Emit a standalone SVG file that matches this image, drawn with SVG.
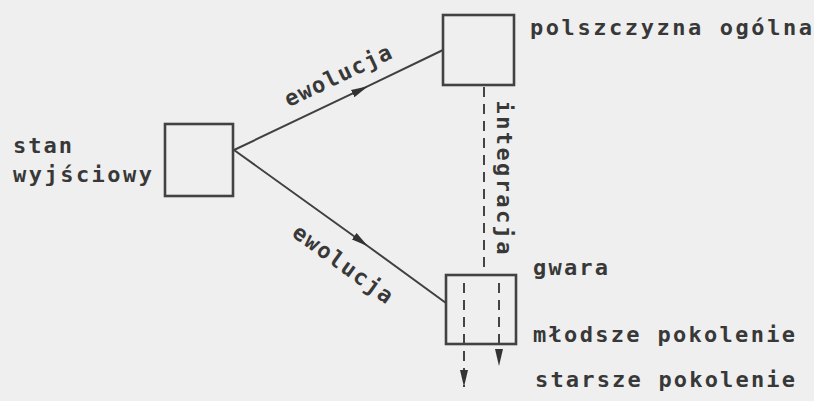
<svg xmlns="http://www.w3.org/2000/svg" width="814" height="401" viewBox="0 0 814 401">
  <defs>
    <marker id="head" markerUnits="userSpaceOnUse" markerWidth="20" markerHeight="10" refX="17" refY="0" viewBox="0 -5 20 10" orient="auto">
      <path d="M0,-4 L17,0 L0,4 z" fill="#333333"/>
    </marker>
    <style>
      .box { fill: none; stroke: #424242; stroke-width: 2.6; }
      .edge { fill: none; stroke: #404040; stroke-width: 2; }
      .dash { fill: none; stroke: #444444; stroke-width: 2; stroke-dasharray: 10 7; }
      .lbl { font-family: "DejaVu Sans Mono", "Liberation Mono", monospace; font-size: 22px; font-weight: bold; fill: #383838; }
    </style>
  </defs>

  <rect width="814" height="401" fill="#efefef"/>

  <!-- connectors -->
  <g id="connectors">
    <path class="edge" d="M234,150 L368,86.2 L443,50" marker-mid="url(#head)"/>
    <path class="edge" d="M234,150 L368,246.2 L446,303" marker-mid="url(#head)"/>
    <path class="dash" d="M484,87 L484,275"/>
    <path class="dash" d="M464,283 L464,387" marker-end="url(#head)"/>
    <path class="dash" d="M499,283 L499,366" marker-end="url(#head)"/>
    <text class="lbl" transform="translate(341,82.4) rotate(-25.5)" text-anchor="middle" textLength="116" lengthAdjust="spacing">ewolucja</text>
    <text class="lbl" transform="translate(338.5,269.9) rotate(35.8)" text-anchor="middle" textLength="118" lengthAdjust="spacing">ewolucja</text>
    <text class="lbl" transform="translate(497,177.5) rotate(90)" text-anchor="middle" textLength="154" lengthAdjust="spacing">integracja</text>
  </g>

  <!-- starting state -->
  <g id="start">
    <rect class="box" x="165" y="124" width="68" height="72"/>
    <text class="lbl" x="13" y="153" textLength="59" lengthAdjust="spacing">stan</text>
    <text class="lbl" x="13" y="182" textLength="139" lengthAdjust="spacing">wyjściowy</text>
  </g>

  <!-- general Polish -->
  <g id="general">
    <rect class="box" x="443" y="15" width="71" height="70"/>
    <text class="lbl" x="530" y="35" textLength="282" lengthAdjust="spacing">polszczyzna ogólna</text>
  </g>

  <!-- dialect -->
  <g id="dialect">
    <rect class="box" x="446" y="275" width="70" height="69"/>
    <text class="lbl" x="533" y="275" textLength="75" lengthAdjust="spacing">gwara</text>
    <text class="lbl" x="533" y="342" textLength="262" lengthAdjust="spacing">młodsze pokolenie</text>
    <text class="lbl" x="535" y="387" textLength="260" lengthAdjust="spacing">starsze pokolenie</text>
  </g>
</svg>
